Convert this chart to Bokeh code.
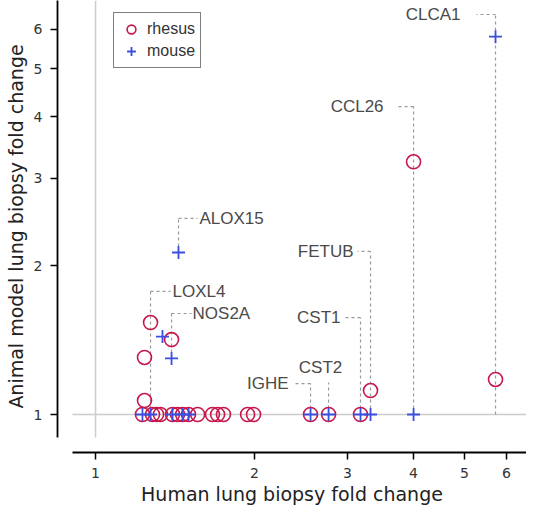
import math
from bokeh.plotting import figure
from bokeh.models import (Range1d, FixedTicker, NumeralTickFormatter, Legend,
                          LegendItem, ColumnDataSource)
from bokeh.core.properties import value
from bokeh.embed import file_html
from bokeh.resources import INLINE

# ---- data (human fold change vs animal model fold change) ----
rhesus_x = [1.227, 1.238, 1.238, 1.271, 1.282, 1.305, 1.327, 1.393, 1.399, 1.430,
            1.462, 1.500, 1.561, 1.665, 1.703, 1.747, 1.941, 1.992, 2.554, 2.763,
            3.176, 3.318, 4.003, 5.723]
rhesus_y = [1.0, 1.067, 1.304, 1.534, 1.0, 1.0, 1.0, 1.417, 1.0, 1.0,
            1.0, 1.0, 1.0, 1.0, 1.0, 1.0, 1.0, 1.0, 1.0, 1.0,
            1.0, 1.118, 3.24, 1.177]
mouse_x = [1.227, 1.271, 1.339, 1.393, 1.399, 1.436, 1.462, 1.500, 2.554, 2.763,
           3.176, 3.318, 4.003, 5.723]
mouse_y = [1.0, 1.0, 1.437, 1.298, 1.0, 2.125, 1.0, 1.0, 1.0, 1.0,
           1.0, 1.0, 1.0, 5.80]

genes = ["CLCA1", "CCL26", "FETUB", "CST1", "CST2", "IGHE", "ALOX15", "LOXL4", "NOS2A"]
gene_x = [5.723, 4.003, 3.318, 3.176, 2.763, 2.554, 1.436, 1.271, 1.393]

tick_values = [1, 2, 3, 4, 5, 6]

# ---- label layout (annotation placement) ----
leader_top = [6.43, 4.19, 2.135, 1.57, 1.16, 1.155, 2.49, 1.773, 1.60]
leader_bottom = [1.0, 1.0, 1.0, 1.0, 1.0, 1.0, 2.125, 1.0, 1.298]
text_y = [6.43, 4.19, 2.135, 1.57, 1.244, 1.155, 2.49, 1.773, 1.60]
text_dx = [-35, -30, -17, -20, -8, -22, 21, 22, 21]
text_align = ["right", "right", "right", "right", "center", "right", "left", "left", "left"]
elbow_len = [19, 16, 13, 15, 0, 15, 19, 20, 20]

RED = "#c8174a"
BLUE = "#3a4ee0"

X_LO, X_HI = 0.8471, 6.551
Y_LO, Y_HI = 0.838, 6.862

p = figure(width=526, height=508, x_axis_type="log", y_axis_type="log",
           x_range=Range1d(X_LO, X_HI), y_range=Range1d(Y_LO, Y_HI),
           output_backend="svg", toolbar_location=None,
           min_border_left=57, min_border_right=0, min_border_top=0,
           min_border_bottom=56)
p.outline_line_color = None
p.xgrid.visible = False
p.ygrid.visible = False
p.background_fill_color = "white"

# reference lines at 1
p.segment(x0=[1.0], y0=[0.8987], x1=[1.0], y1=[Y_HI], line_color="#cccccc", line_width=1.5)
p.segment(x0=[0.9046], y0=[1.0], x1=[X_HI], y1=[1.0], line_color="#cccccc", line_width=1.5)

# leader lines
p.segment(x0=gene_x, y0=leader_bottom, x1=gene_x, y1=leader_top,
          line_color="#999999", line_width=1.2, line_dash="3 3")
ray_idx = [i for i in range(len(genes)) if elbow_len[i] > 0]
ray_src = ColumnDataSource(dict(
    x=[gene_x[i] for i in ray_idx],
    y=[leader_top[i] for i in ray_idx],
    length=[elbow_len[i] for i in ray_idx],
    angle=[math.pi if text_dx[i] < 0 else 0.0 for i in ray_idx],
))
p.ray(x="x", y="y", length="length", angle="angle", length_units="screen",
      source=ray_src, line_color="#999999", line_width=1.2, line_dash="3 3")

lab_src = ColumnDataSource(dict(x=gene_x, y=text_y, name=genes, dx=text_dx, align=text_align))
p.text(x="x", y="y", text="name", x_offset="dx", text_align="align", source=lab_src,
       text_baseline="middle", text_font=value("Liberation Sans"),
       text_font_size="17px", text_color="#4a4a4a")

r1 = p.scatter(rhesus_x, rhesus_y, marker="circle", size=14, fill_color=None,
               line_color=RED, line_width=1.6)
r2 = p.scatter(mouse_x, mouse_y, marker="cross", size=13, line_color=BLUE, line_width=1.8)

legend = Legend(items=[LegendItem(label="rhesus", renderers=[r1]),
                       LegendItem(label="mouse", renderers=[r2])],
                location=(56, 384))
legend.border_line_color = "black"
legend.border_line_width = 1.5
legend.background_fill_color = "white"
legend.background_fill_alpha = 1.0
legend.label_text_font = "Liberation Sans"
legend.label_text_font_size = "16px"
legend.label_text_color = "#333333"
legend.padding = 5
legend.spacing = 0
legend.margin = 0
legend.glyph_width = 24
legend.glyph_height = 22
legend.label_height = 22
legend.label_standoff = 4
p.add_layout(legend)

for ax in (p.xaxis[0], p.yaxis[0]):
    ax.ticker = FixedTicker(ticks=tick_values, minor_ticks=[])
    ax.formatter = NumeralTickFormatter(format="0")
    ax.axis_line_color = "black"
    ax.axis_line_width = 1.8
    ax.major_tick_line_color = "black"
    ax.major_tick_line_width = 1.5
    ax.major_tick_in = 0
    ax.major_tick_out = 7
    ax.minor_tick_line_color = None
    ax.major_label_text_font = "DejaVu Sans"
    ax.major_label_text_font_size = "14px"
    ax.major_label_text_color = "#333333"
    ax.axis_label_text_font = "DejaVu Sans"
    ax.axis_label_text_font_size = "19px"
    ax.axis_label_text_font_style = "normal"
    ax.axis_label_text_color = "#222222"

p.xaxis.bounds = (0.9046, X_HI)
p.yaxis.bounds = (0.8987, Y_HI)
p.xaxis.axis_label = "Human lung biopsy fold change"
p.yaxis.axis_label = "Animal model lung biopsy fold change"
p.xaxis.major_label_standoff = 8
p.yaxis.major_label_standoff = 8
p.xaxis.axis_label_standoff = 2
p.yaxis.axis_label_standoff = 4

open("out.html", "w").write(file_html(p, INLINE))
